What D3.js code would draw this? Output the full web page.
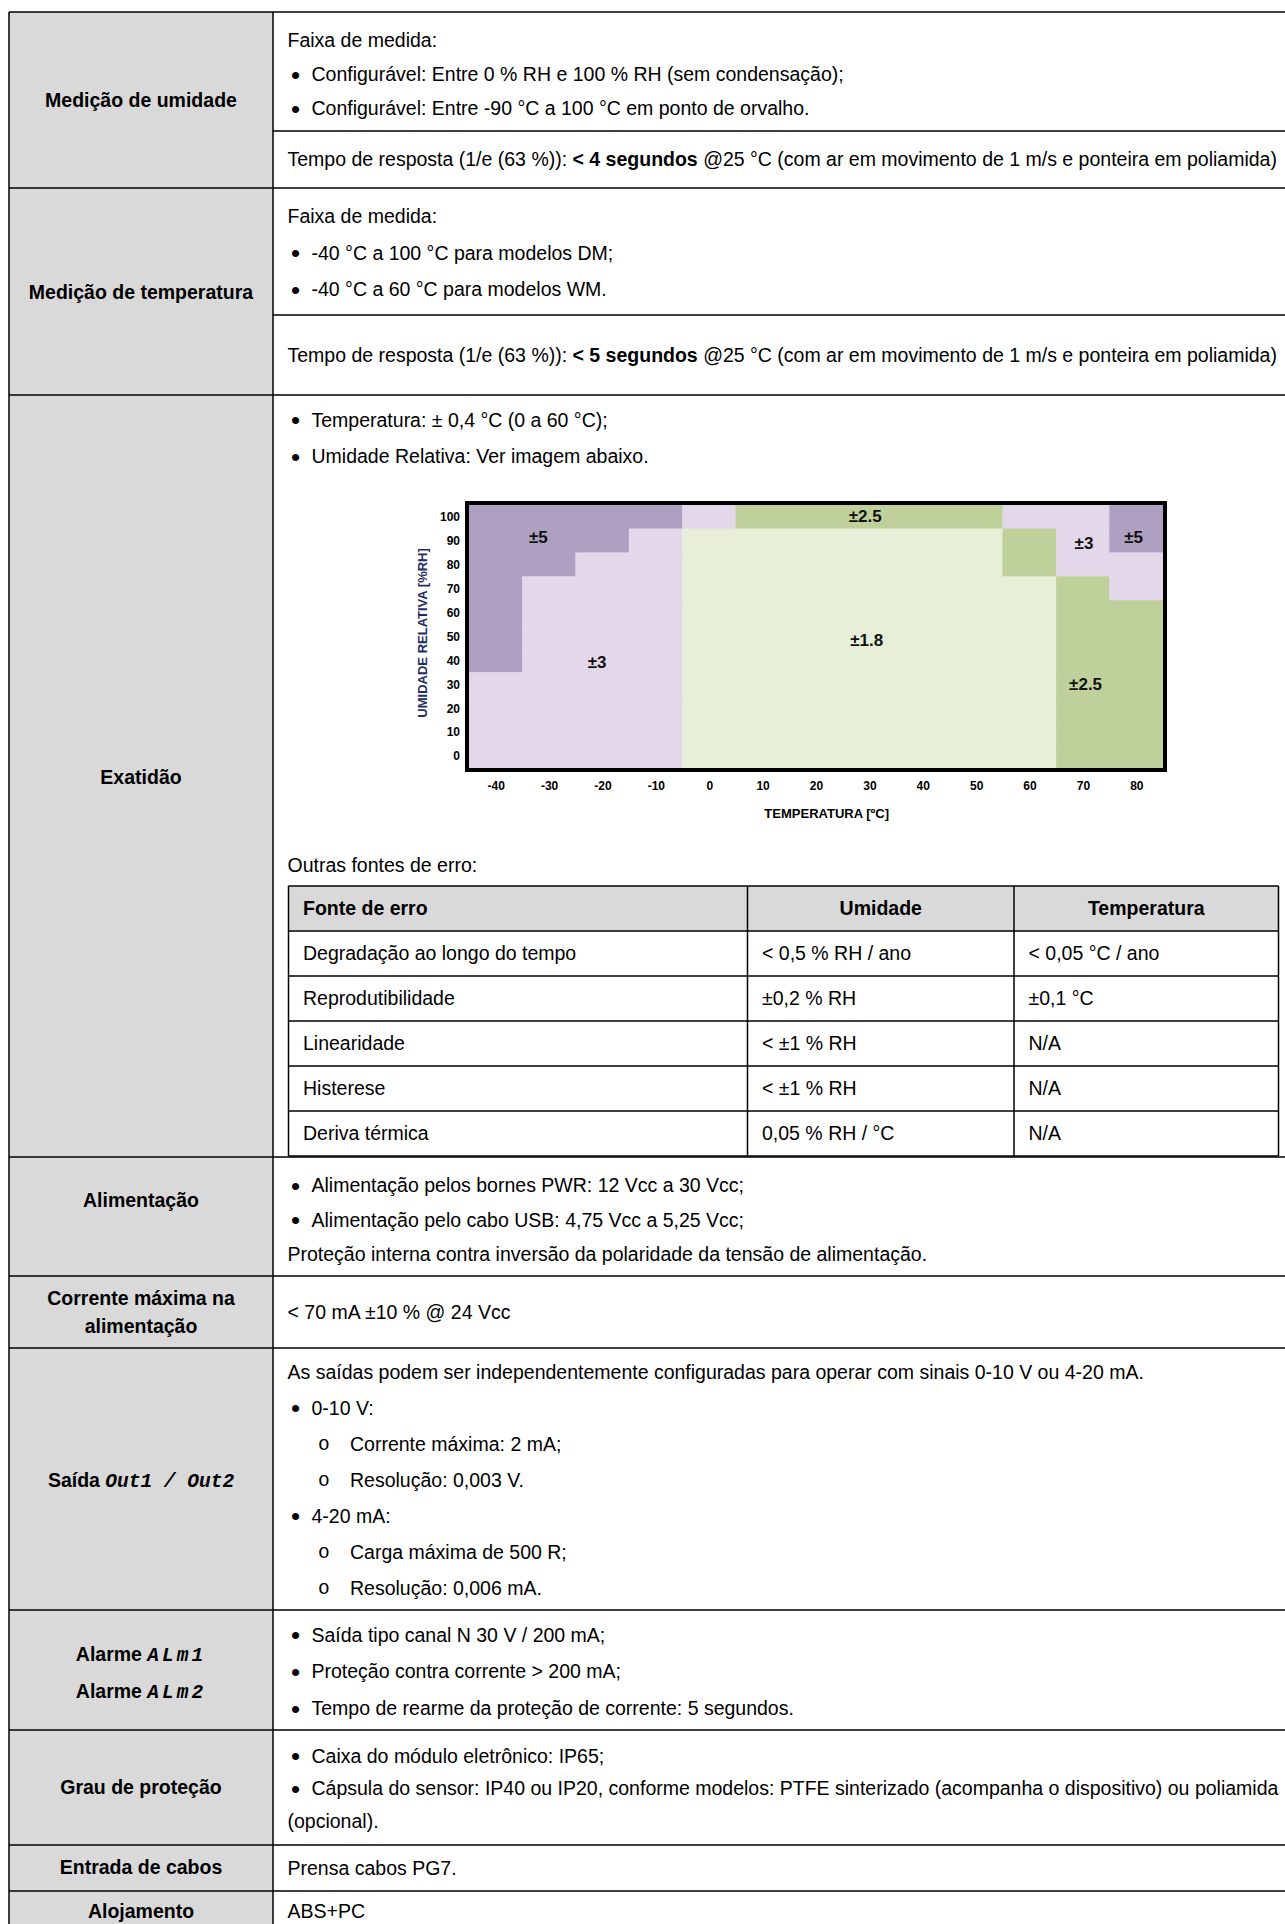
<!DOCTYPE html>
<html>
<head>
<meta charset="utf-8">
<script src="https://cdn.jsdelivr.net/npm/d3@7"></script>
<style>
  html, body { margin: 0; padding: 0; background: #fff; }
  svg { display: block; font-family: "Liberation Sans", Arial, sans-serif; }
</style>
</head>
<body>
<div id="chart"></div>
<script>
// ---- accuracy chart data ----
const temps = [-40, -30, -20, -10, 0, 10, 20, 30, 40, 50, 60, 70, 80];
const rhLevels = [100, 90, 80, 70, 60, 50, 40, 30, 20, 10, 0];
const xTickLabels = ['-40', '-30', '-20', '-10', '0', '10', '20', '30', '40', '50', '60', '70', '80'];
const yTickLabels = ['100', '90', '80', '70', '60', '50', '40', '30', '20', '10', '0'];
// ±%RH for each cell, one row per rhLevels entry, one column per temps entry
const accuracy = [
  [5, 5, 5, 5, 3, 2.5, 2.5, 2.5, 2.5, 2.5, 3, 3, 5],
  [5, 5, 5, 3, 1.8, 1.8, 1.8, 1.8, 1.8, 1.8, 2.5, 3, 5],
  [5, 5, 3, 3, 1.8, 1.8, 1.8, 1.8, 1.8, 1.8, 2.5, 3, 3],
  [5, 3, 3, 3, 1.8, 1.8, 1.8, 1.8, 1.8, 1.8, 1.8, 2.5, 3],
  [5, 3, 3, 3, 1.8, 1.8, 1.8, 1.8, 1.8, 1.8, 1.8, 2.5, 2.5],
  [5, 3, 3, 3, 1.8, 1.8, 1.8, 1.8, 1.8, 1.8, 1.8, 2.5, 2.5],
  [5, 3, 3, 3, 1.8, 1.8, 1.8, 1.8, 1.8, 1.8, 1.8, 2.5, 2.5],
  [3, 3, 3, 3, 1.8, 1.8, 1.8, 1.8, 1.8, 1.8, 1.8, 2.5, 2.5],
  [3, 3, 3, 3, 1.8, 1.8, 1.8, 1.8, 1.8, 1.8, 1.8, 2.5, 2.5],
  [3, 3, 3, 3, 1.8, 1.8, 1.8, 1.8, 1.8, 1.8, 1.8, 2.5, 2.5],
  [3, 3, 3, 3, 1.8, 1.8, 1.8, 1.8, 1.8, 1.8, 1.8, 2.5, 2.5]
];
const zoneValues = [5, 3, 2.5, 1.8];
// zone captions, placed in temperature / %RH units
const zoneLabels = [
  {text: '±5', t: -32, rh: 91.5},
  {text: '±3', t: -21, rh: 39.5},
  {text: '±2.5', t: 29.2, rh: 100.5},
  {text: '±1.8', t: 29.5, rh: 48.5},
  {text: '±3', t: 70.2, rh: 89},
  {text: '±5', t: 79.5, rh: 91.5},
  {text: '±2.5', t: 70.5, rh: 30}
];

// ---- table text ----
const rowLabels = [
  ['Medição de umidade'],
  ['Medição de temperatura'],
  ['Exatidão'],
  ['Alimentação'],
  ['Corrente máxima na', 'alimentação'],
  [[{t: 'Saída '}, {t: 'Out1 / Out2', seg: true}]],
  [[{t: 'Alarme '}, {t: 'ALm1', seg: true}], [{t: 'Alarme '}, {t: 'ALm2', seg: true}]],
  ['Grau de proteção'],
  ['Entrada de cabos'],
  ['Alojamento']
];
const humidityLines = [
  {k: 'p', t: 'Faixa de medida:'},
  {k: 'b', t: 'Configurável: Entre 0 % RH e 100 % RH (sem condensação);'},
  {k: 'b', t: 'Configurável: Entre -90 °C a 100 °C em ponto de orvalho.'}
];
const humidityResponse = [
  {t: 'Tempo de resposta (1/e (63 %)): '}, {t: '< 4 segundos', b: true},
  {t: ' @25 °C (com ar em movimento de 1 m/s e ponteira em poliamida)'}
];
const temperatureLines = [
  {k: 'p', t: 'Faixa de medida:'},
  {k: 'b', t: '-40 °C a 100 °C para modelos DM;'},
  {k: 'b', t: '-40 °C a 60 °C para modelos WM.'}
];
const temperatureResponse = [
  {t: 'Tempo de resposta (1/e (63 %)): '}, {t: '< 5 segundos', b: true},
  {t: ' @25 °C (com ar em movimento de 1 m/s e ponteira em poliamida)'}
];
const accuracyLines = [
  {k: 'b', t: 'Temperatura: ± 0,4 °C (0 a 60 °C);'},
  {k: 'b', t: 'Umidade Relativa: Ver imagem abaixo.'}
];
const otherErrorsTitle = 'Outras fontes de erro:';
const errorHeader = ['Fonte de erro', 'Umidade', 'Temperatura'];
const errorSources = ['Degradação ao longo do tempo', 'Reprodutibilidade', 'Linearidade', 'Histerese', 'Deriva térmica'];
const errorHumidity = ['< 0,5 % RH / ano', '±0,2 % RH', '< ±1 % RH', '< ±1 % RH', '0,05 % RH / °C'];
const errorTemperature = ['< 0,05 °C / ano', '±0,1 °C', 'N/A', 'N/A', 'N/A'];
const powerLines = [
  {k: 'b', t: 'Alimentação pelos bornes PWR: 12 Vcc a 30 Vcc;'},
  {k: 'b', t: 'Alimentação pelo cabo USB: 4,75 Vcc a 5,25 Vcc;'},
  {k: 'p', t: 'Proteção interna contra inversão da polaridade da tensão de alimentação.'}
];
const currentLines = [{k: 'p', t: '< 70 mA ±10 % @ 24 Vcc'}];
const outputLines = [
  {k: 'p', t: 'As saídas podem ser independentemente configuradas para operar com sinais 0-10 V ou 4-20 mA.'},
  {k: 'b', t: '0-10 V:'},
  {k: 's', t: 'Corrente máxima: 2 mA;'},
  {k: 's', t: 'Resolução: 0,003 V.'},
  {k: 'b', t: '4-20 mA:'},
  {k: 's', t: 'Carga máxima de 500 R;'},
  {k: 's', t: 'Resolução: 0,006 mA.'}
];
const alarmLines = [
  {k: 'b', t: 'Saída tipo canal N 30 V / 200 mA;'},
  {k: 'b', t: 'Proteção contra corrente > 200 mA;'},
  {k: 'b', t: 'Tempo de rearme da proteção de corrente: 5 segundos.'}
];
const protectionLines = [
  {k: 'b', t: 'Caixa do módulo eletrônico: IP65;'},
  {k: 'b', t: 'Cápsula do sensor: IP40 ou IP20, conforme modelos: PTFE sinterizado (acompanha o dispositivo) ou poliamida'},
  {k: 'c', t: '(opcional).'}
];
const cableLines = [{k: 'p', t: 'Prensa cabos PG7.'}];
const housingLines = [{k: 'p', t: 'ABS+PC'}];

// ---- layout ----
const W = 1285, H = 1924;
const fontSize = 19.5;
const tableLeft = 9, splitX = 273, tableRight = 1290;
const rowEdges = [12, 188, 395, 1157, 1276, 1348, 1610, 1730, 1845, 1891, 1940];
const innerEdges = [131, 315];
const labelCenters = [[100.5], [292], [777], [1200], [1298.5, 1326.5], [1480], [1654.5, 1691], [1787], [1867], [1911]];
const textX = {p: 287.5, bullet: 291, b: 311.5, sbullet: 318, s: 350, c: 287.5};

const svg = d3.select('#chart').append('svg')
  .attr('width', W)
  .attr('height', H);

svg.append('rect').attr('width', W).attr('height', H).attr('fill', '#fff');

// left column shading
svg.append('rect')
  .attr('x', tableLeft).attr('y', rowEdges[0])
  .attr('width', splitX - tableLeft).attr('height', H - rowEdges[0])
  .attr('fill', '#d9d9d9');

function addRich(g, x, y, segs, opts = {}) {
  const t = g.append('text')
    .attr('x', x).attr('y', y).attr('dy', '0.35em')
    .attr('font-size', opts.size || fontSize)
    .attr('text-anchor', opts.anchor || 'start')
    .attr('font-weight', opts.bold ? 'bold' : null)
    .attr('fill', '#000');
  (typeof segs === 'string' ? [{t: segs}] : segs).forEach(s => {
    const sp = t.append('tspan').text(s.t);
    if (s.b) sp.attr('font-weight', 'bold');
    if (s.seg) {
      sp.attr('font-family', '"Liberation Mono", "DejaVu Sans Mono", monospace')
        .attr('font-style', 'italic')
        .attr('font-weight', 'bold')
        .attr('letter-spacing', s.t.length < 6 ? 3 : 0);
    }
  });
  return t;
}

function drawLines(lines, top, first, gap) {
  const g = svg.append('g');
  lines.forEach((ln, i) => {
    const yy = top + first + i * gap;
    if (ln.k === 'b') {
      g.append('text').attr('x', textX.bullet).attr('y', yy).attr('dy', '0.36em')
        .attr('font-size', 26).text('•');
      addRich(g, textX.b, yy, ln.t);
    } else if (ln.k === 's') {
      g.append('text').attr('x', textX.sbullet).attr('y', yy).attr('dy', '0.3em')
        .attr('font-family', '"Liberation Mono", "Courier New", monospace')
        .attr('font-size', fontSize).text('o');
      addRich(g, textX.s, yy, ln.t);
    } else if (ln.k === 'c') {
      addRich(g, textX.c, yy, ln.t);
    } else {
      addRich(g, textX.p, yy, ln.segs || ln.t);
    }
  });
}

// row labels
const labelG = svg.append('g');
rowLabels.forEach((lines, i) => {
  lines.forEach((ln, j) => {
    addRich(labelG, (tableLeft + splitX) / 2, labelCenters[i][j], ln, {anchor: 'middle', bold: true});
  });
});

// right column contents
drawLines(humidityLines, rowEdges[0], 28.5, 34);
addRich(svg, textX.p, (innerEdges[0] + rowEdges[1]) / 2, humidityResponse);
drawLines(temperatureLines, rowEdges[1], 28, 36.8);
addRich(svg, textX.p, (innerEdges[1] + rowEdges[2]) / 2, temperatureResponse);
drawLines(accuracyLines, rowEdges[2], 24.7, 36.9);
addRich(svg, textX.p, 865, otherErrorsTitle);
drawLines(powerLines, rowEdges[3], 28.6, 34.2);
drawLines(currentLines, (rowEdges[4] + rowEdges[5]) / 2, 0, 0);
drawLines(outputLines, rowEdges[5], 24, 36);
drawLines(alarmLines, rowEdges[6], 25, 36.6);
drawLines(protectionLines, rowEdges[7], 26, 32.5);
drawLines(cableLines, (rowEdges[8] + rowEdges[9]) / 2, 0, 0);
drawLines(housingLines, (rowEdges[9] + rowEdges[10]) / 2 - 4, 0, 0);

// ---- error sources sub-table ----
const sub = {cols: [288.5, 747.5, 1014, 1278.5], top: 886, headH: 45, rowH: 45};
const subG = svg.append('g');
subG.append('rect')
  .attr('x', sub.cols[0]).attr('y', sub.top)
  .attr('width', sub.cols[3] - sub.cols[0]).attr('height', sub.headH)
  .attr('fill', '#d9d9d9');
const subBottom = sub.top + sub.headH + errorSources.length * sub.rowH;
addRich(subG, sub.cols[0] + 14.5, sub.top + sub.headH / 2, errorHeader[0], {bold: true});
addRich(subG, (sub.cols[1] + sub.cols[2]) / 2, sub.top + sub.headH / 2, errorHeader[1], {bold: true, anchor: 'middle'});
addRich(subG, (sub.cols[2] + sub.cols[3]) / 2, sub.top + sub.headH / 2, errorHeader[2], {bold: true, anchor: 'middle'});
errorSources.forEach((src, i) => {
  const yy = sub.top + sub.headH + (i + 0.5) * sub.rowH;
  addRich(subG, sub.cols[0] + 14.5, yy, src);
  addRich(subG, sub.cols[1] + 14.5, yy, errorHumidity[i]);
  addRich(subG, sub.cols[2] + 14.5, yy, errorTemperature[i]);
});
const subLines = [sub.top, sub.top + sub.headH];
errorSources.forEach((d, i) => subLines.push(sub.top + sub.headH + (i + 1) * sub.rowH));
subG.selectAll('line.h').data(subLines).join('line')
  .attr('x1', sub.cols[0]).attr('x2', sub.cols[3])
  .attr('y1', d => d).attr('y2', d => d)
  .attr('stroke', '#000').attr('stroke-width', 1.5);
subG.selectAll('line.v').data(sub.cols).join('line')
  .attr('x1', d => d).attr('x2', d => d)
  .attr('y1', sub.top).attr('y2', subBottom)
  .attr('stroke', '#000').attr('stroke-width', 1.5);

// ---- main table grid ----
const grid = svg.append('g').attr('stroke', '#000').attr('stroke-width', 1.5);
grid.selectAll('line.row').data(rowEdges.slice(0, -1)).join('line')
  .attr('x1', tableLeft).attr('x2', tableRight)
  .attr('y1', d => d).attr('y2', d => d);
grid.selectAll('line.inner').data(innerEdges).join('line')
  .attr('x1', splitX).attr('x2', tableRight)
  .attr('y1', d => d).attr('y2', d => d);
grid.selectAll('line.col').data([tableLeft, splitX]).join('line')
  .attr('x1', d => d).attr('x2', d => d)
  .attr('y1', rowEdges[0]).attr('y2', H);

// ---- accuracy chart ----
const plot = {left: 469, right: 1163, top: 505, bottom: 768};
const x = d3.scaleLinear().domain([-45, 85]).range([plot.left, plot.right]);
const y = d3.scaleLinear().domain([-5, 105]).range([plot.bottom, plot.top]);
const zoneColor = d3.scaleOrdinal()
  .domain(zoneValues)
  .range(['#aea0c0', '#e3d8ea', '#c0d09b', '#e7efd8']);

const cells = [];
rhLevels.forEach((rh, i) => {
  temps.forEach((t, j) => cells.push({t, rh, v: accuracy[i][j]}));
});

const chart = svg.append('g').attr('class', 'accuracy-chart');
chart.selectAll('rect.cell')
  .data(cells)
  .join('rect')
  .attr('class', 'cell')
  .attr('x', d => x(d.t - 5))
  .attr('y', d => y(d.rh + 5))
  .attr('width', d => x(d.t + 5) - x(d.t - 5))
  .attr('height', d => y(d.rh - 5) - y(d.rh + 5))
  .attr('fill', d => zoneColor(d.v))
  .attr('stroke', d => zoneColor(d.v))
  .attr('stroke-width', 0.6);

chart.append('rect')
  .attr('x', plot.left - 2).attr('y', plot.top - 2)
  .attr('width', plot.right - plot.left + 4).attr('height', plot.bottom - plot.top + 4)
  .attr('fill', 'none').attr('stroke', '#000').attr('stroke-width', 4);

chart.selectAll('text.zone')
  .data(zoneLabels)
  .join('text')
  .attr('class', 'zone')
  .attr('x', d => x(d.t))
  .attr('y', d => y(d.rh))
  .attr('dy', '0.35em')
  .attr('text-anchor', 'middle')
  .attr('font-size', 17)
  .attr('font-weight', 'bold')
  .attr('fill', '#111')
  .text(d => d.text);

const xAxis = d3.axisBottom(x)
  .tickValues(temps)
  .tickFormat((d, i) => xTickLabels[i])
  .tickSize(0)
  .tickPadding(9);
chart.append('g')
  .attr('transform', 'translate(0,' + (plot.bottom + 4) + ')')
  .call(xAxis)
  .call(g => g.select('.domain').remove())
  .call(g => g.selectAll('text')
    .attr('font-family', '"Liberation Sans", Arial, sans-serif')
    .attr('font-size', 12).attr('font-weight', 'bold').attr('fill', '#000'));

const yAxis = d3.axisLeft(y)
  .tickValues(rhLevels)
  .tickFormat((d, i) => yTickLabels[i])
  .tickSize(0)
  .tickPadding(5);
chart.append('g')
  .attr('transform', 'translate(' + (plot.left - 4) + ',0)')
  .call(yAxis)
  .call(g => g.select('.domain').remove())
  .call(g => g.selectAll('text')
    .attr('font-family', '"Liberation Sans", Arial, sans-serif')
    .attr('font-size', 12).attr('font-weight', 'bold').attr('fill', '#000'));

chart.append('text')
  .attr('x', x(22)).attr('y', plot.bottom + 45)
  .attr('dy', '0.35em')
  .attr('text-anchor', 'middle')
  .attr('font-size', 13).attr('font-weight', 'bold')
  .text('TEMPERATURA [ºC]');

chart.append('text')
  .attr('transform', 'translate(422,' + y(51.5) + ') rotate(-90)')
  .attr('dy', '0.35em')
  .attr('text-anchor', 'middle')
  .attr('font-size', 13).attr('font-weight', 'bold')
  .attr('fill', '#1f2d63')
  .text('UMIDADE RELATIVA [%RH]');
</script>
</body>
</html>
